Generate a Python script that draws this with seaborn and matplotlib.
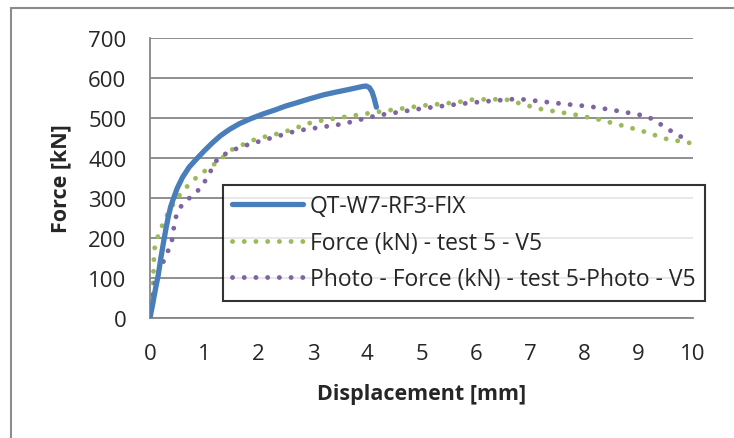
import numpy as np
import pandas as pd
import matplotlib
matplotlib.use('Agg')
import matplotlib.pyplot as plt
import seaborn as sns
from matplotlib.patches import Rectangle

# data
qt_disp = [0.0, 0.05, 0.10, 0.15, 0.20, 0.25, 0.30, 0.34, 0.38, 0.43, 0.50, 0.60, 0.72, 0.86, 1.0, 1.15, 1.30,
           1.47, 1.65, 1.85, 2.08, 2.3, 2.5, 2.7, 2.94, 3.2, 3.4, 3.65, 3.92, 3.98, 4.04, 4.09, 4.13, 4.17]
qt_force = [0, 35, 72, 106, 150, 190, 228, 255, 278, 298, 324, 352, 377, 398, 418, 438, 456,
            472, 486, 498, 510, 520, 530, 538, 548, 558, 564, 571, 579, 580, 576, 565, 548, 527]

t5_disp = [0.0, 0.03, 0.06, 0.07, 0.09, 0.18, 0.31, 0.46, 0.64, 0.89, 1.23, 1.53, 1.96, 2.45, 3.0, 3.55, 4.23,
           5.02, 5.64, 5.94, 6.3, 6.56, 6.77, 7.17, 7.84, 8.27, 8.70, 9.10, 9.50, 9.93]
t5_force = [0, 35, 97, 143, 181, 218, 256, 293, 323, 356, 389, 423, 448, 464, 490, 502, 516,
            531, 539, 546, 547, 546, 538, 523, 508, 496, 481, 466, 448, 438]

ph_disp = [0.0, 0.03, 0.06, 0.12, 0.2, 0.29, 0.4, 0.45, 0.5, 0.61, 0.78, 0.95, 1.26, 1.65, 2.05, 2.70, 3.55,
           4.17, 5.02, 5.70, 6.13, 6.77, 7.23, 7.63, 8.09, 8.52, 8.94, 9.16, 9.35, 9.53, 9.71, 9.90]
ph_force = [0, 18, 72, 102, 127, 154, 190, 237, 264, 287, 306, 327, 402, 427, 443, 468, 485,
            506, 524, 535, 541, 548, 541, 535, 529, 520, 510, 504, 489, 473, 458, 445]

labels = ['QT-W7-RF3-FIX', 'Force (kN) - test 5 - V5', 'Photo - Force (kN) - test 5-Photo - V5']
colors = ['#4A7EBB', '#9BBB59', '#8064A2']

sns.set_theme(style='white')
plt.rcParams['font.family'] = ['Open Sans', 'DejaVu Sans']

W, H = 734, 439
fig = plt.figure(figsize=(W / 100, H / 100), dpi=100)
ax = fig.add_axes([150 / W, (H - 319) / H, (693 - 150) / W, (319 - 39) / H])

# outer chart border (only top/left visible)
fig.patches.append(Rectangle((11 / W, -0.1), 1.2, (H - 9) / H + 0.1, transform=fig.transFigure,
                             fill=False, edgecolor='#8c8c8c', linewidth=1.5, zorder=0))

df_qt = pd.DataFrame({'disp': qt_disp, 'force': qt_force})
df_t5 = pd.DataFrame({'disp': t5_disp, 'force': t5_force})
df_ph = pd.DataFrame({'disp': ph_disp, 'force': ph_force})

dots = (0, (0.01, 2.4))
sns.lineplot(data=df_t5, x='disp', y='force', ax=ax, color=colors[1], linewidth=3.5,
             linestyle=dots, dash_capstyle='round', label=labels[1], sort=False, zorder=3)
sns.lineplot(data=df_ph, x='disp', y='force', ax=ax, color=colors[2], linewidth=3.5,
             linestyle=dots, dash_capstyle='round', label=labels[2], sort=False, zorder=3)
sns.lineplot(data=df_qt, x='disp', y='force', ax=ax, color=colors[0], linewidth=3.8,
             solid_capstyle='round', solid_joinstyle='round', label=labels[0], sort=False, zorder=4)

ax.set_xlim(0, 10)
ax.set_ylim(0, 700)
ax.set_xticks(range(0, 11))
ax.set_yticks(range(0, 701, 100))
ax.grid(axis='y', color='#868686', linewidth=1.3)
ax.set_axisbelow(True)
for s in ['top', 'right']:
    ax.spines[s].set_visible(False)
for s in ['left', 'bottom']:
    ax.spines[s].set_color('#868686')
    ax.spines[s].set_linewidth(1.3)
ax.tick_params(axis='x', direction='in', length=6, width=1.3, color='#868686', pad=18, labelsize=16)
ax.tick_params(axis='y', length=0, pad=17, labelsize=16)
ax.set_xlabel('Displacement [mm]', fontsize=15.5, fontweight='bold', labelpad=14)
ax.set_ylabel('Force [kN]', fontsize=15.5, fontweight='bold', labelpad=12)

handles, lbls = ax.get_legend_handles_labels()
order = [lbls.index(l) for l in labels]
leg = ax.legend([handles[i] for i in order], [lbls[i] for i in order],
                loc='upper left', bbox_to_anchor=((223 - 150) / (693 - 150), (319 - 186) / (319 - 39)),
                fontsize=16.5, frameon=True, fancybox=False, edgecolor='black', handlelength=3.1,
                handletextpad=0.3, borderpad=0.4, labelspacing=0.55, borderaxespad=0)
leg.get_frame().set_linewidth(1.5)
leg.set_zorder(5)

fig.savefig('out.png', dpi=100)
